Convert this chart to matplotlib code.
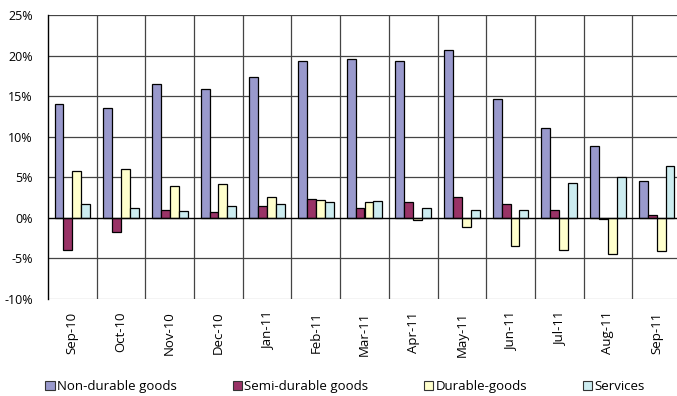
import matplotlib
matplotlib.use("Agg")
import matplotlib.pyplot as plt
import numpy as np
from matplotlib.ticker import FuncFormatter
from matplotlib.patches import Patch

months = ["Sep-10", "Oct-10", "Nov-10", "Dec-10", "Jan-11", "Feb-11", "Mar-11",
          "Apr-11", "May-11", "Jun-11", "Jul-11", "Aug-11", "Sep-11"]
non_durable = [14.0, 13.6, 16.5, 15.9, 17.3, 19.35, 19.6, 19.35, 20.7, 14.6, 11.1, 8.8, 4.5]
semi_durable = [-3.95, -1.75, 1.0, 0.75, 1.45, 2.3, 1.25, 2.0, 2.6, 1.75, 0.95, -0.1, 0.3]
durable = [5.75, 6.05, 3.9, 4.2, 2.55, 2.2, 1.9, -0.3, -1.15, -3.5, -3.9, -4.4, -4.1]
services = [1.75, 1.2, 0.85, 1.4, 1.65, 1.9, 2.05, 1.25, 1.0, 0.95, 4.25, 5.05, 6.4]

series = [
    ("Non-durable goods", non_durable, "#9999CC"),
    ("Semi-durable goods", semi_durable, "#993366"),
    ("Durable-goods", durable, "#FFFFCC"),
    ("Services", services, "#CCECF0"),
]

plt.rcParams['font.family'] = ['Open Sans', 'DejaVu Sans']

fig = plt.figure(figsize=(6.77, 3.96), dpi=100)
ax = fig.add_axes([48/677, 1-299/396, 633/677, 284/396])

x = np.arange(len(months))
w = 0.183
for i, (name, vals, col) in enumerate(series):
    ax.bar(x + (i - 1.5) * w, vals, width=w, color=col, edgecolor="black",
           linewidth=0.9, zorder=3)

ax.set_xlim(-0.5, len(months) - 0.5)
ax.set_ylim(-10, 25)
ax.set_yticks(np.arange(-10, 26, 5))
ax.yaxis.set_major_formatter(FuncFormatter(lambda v, p: f"{int(v)}%"))
ax.set_xticks(x)
ax.set_xticklabels(months, rotation=90, fontsize=9.5)
ax.tick_params(axis='y', labelsize=9, length=0, pad=11)
ax.tick_params(axis='x', length=0, pad=9)

for yv in np.arange(-10, 26, 5):
    if yv == 0:
        continue
    ax.axhline(yv, color="#444444" if yv != -10 else "#AAAAAA", linewidth=0.9, zorder=1)
for xv in np.arange(0.5, len(months) - 0.5, 1):
    ax.axvline(xv, color="#444444", linewidth=0.9, zorder=1)
ax.axhline(0, color="black", linewidth=1.0, zorder=4)

for s in ["top", "right", "bottom"]:
    ax.spines[s].set_visible(False)
ax.spines["left"].set_color("black")
ax.spines["left"].set_linewidth(1.0)

handles = [Patch(facecolor=c, edgecolor="#333333", linewidth=0.8, label=n) for n, _, c in series]
fig.legend(handles=handles, loc="center", bbox_to_anchor=(0.51, 0.024), ncol=4,
           frameon=False, fontsize=9.5, handlelength=0.7, handleheight=0.7,
           handletextpad=0.2, columnspacing=4.2)

fig.savefig("out.png", dpi=100)
